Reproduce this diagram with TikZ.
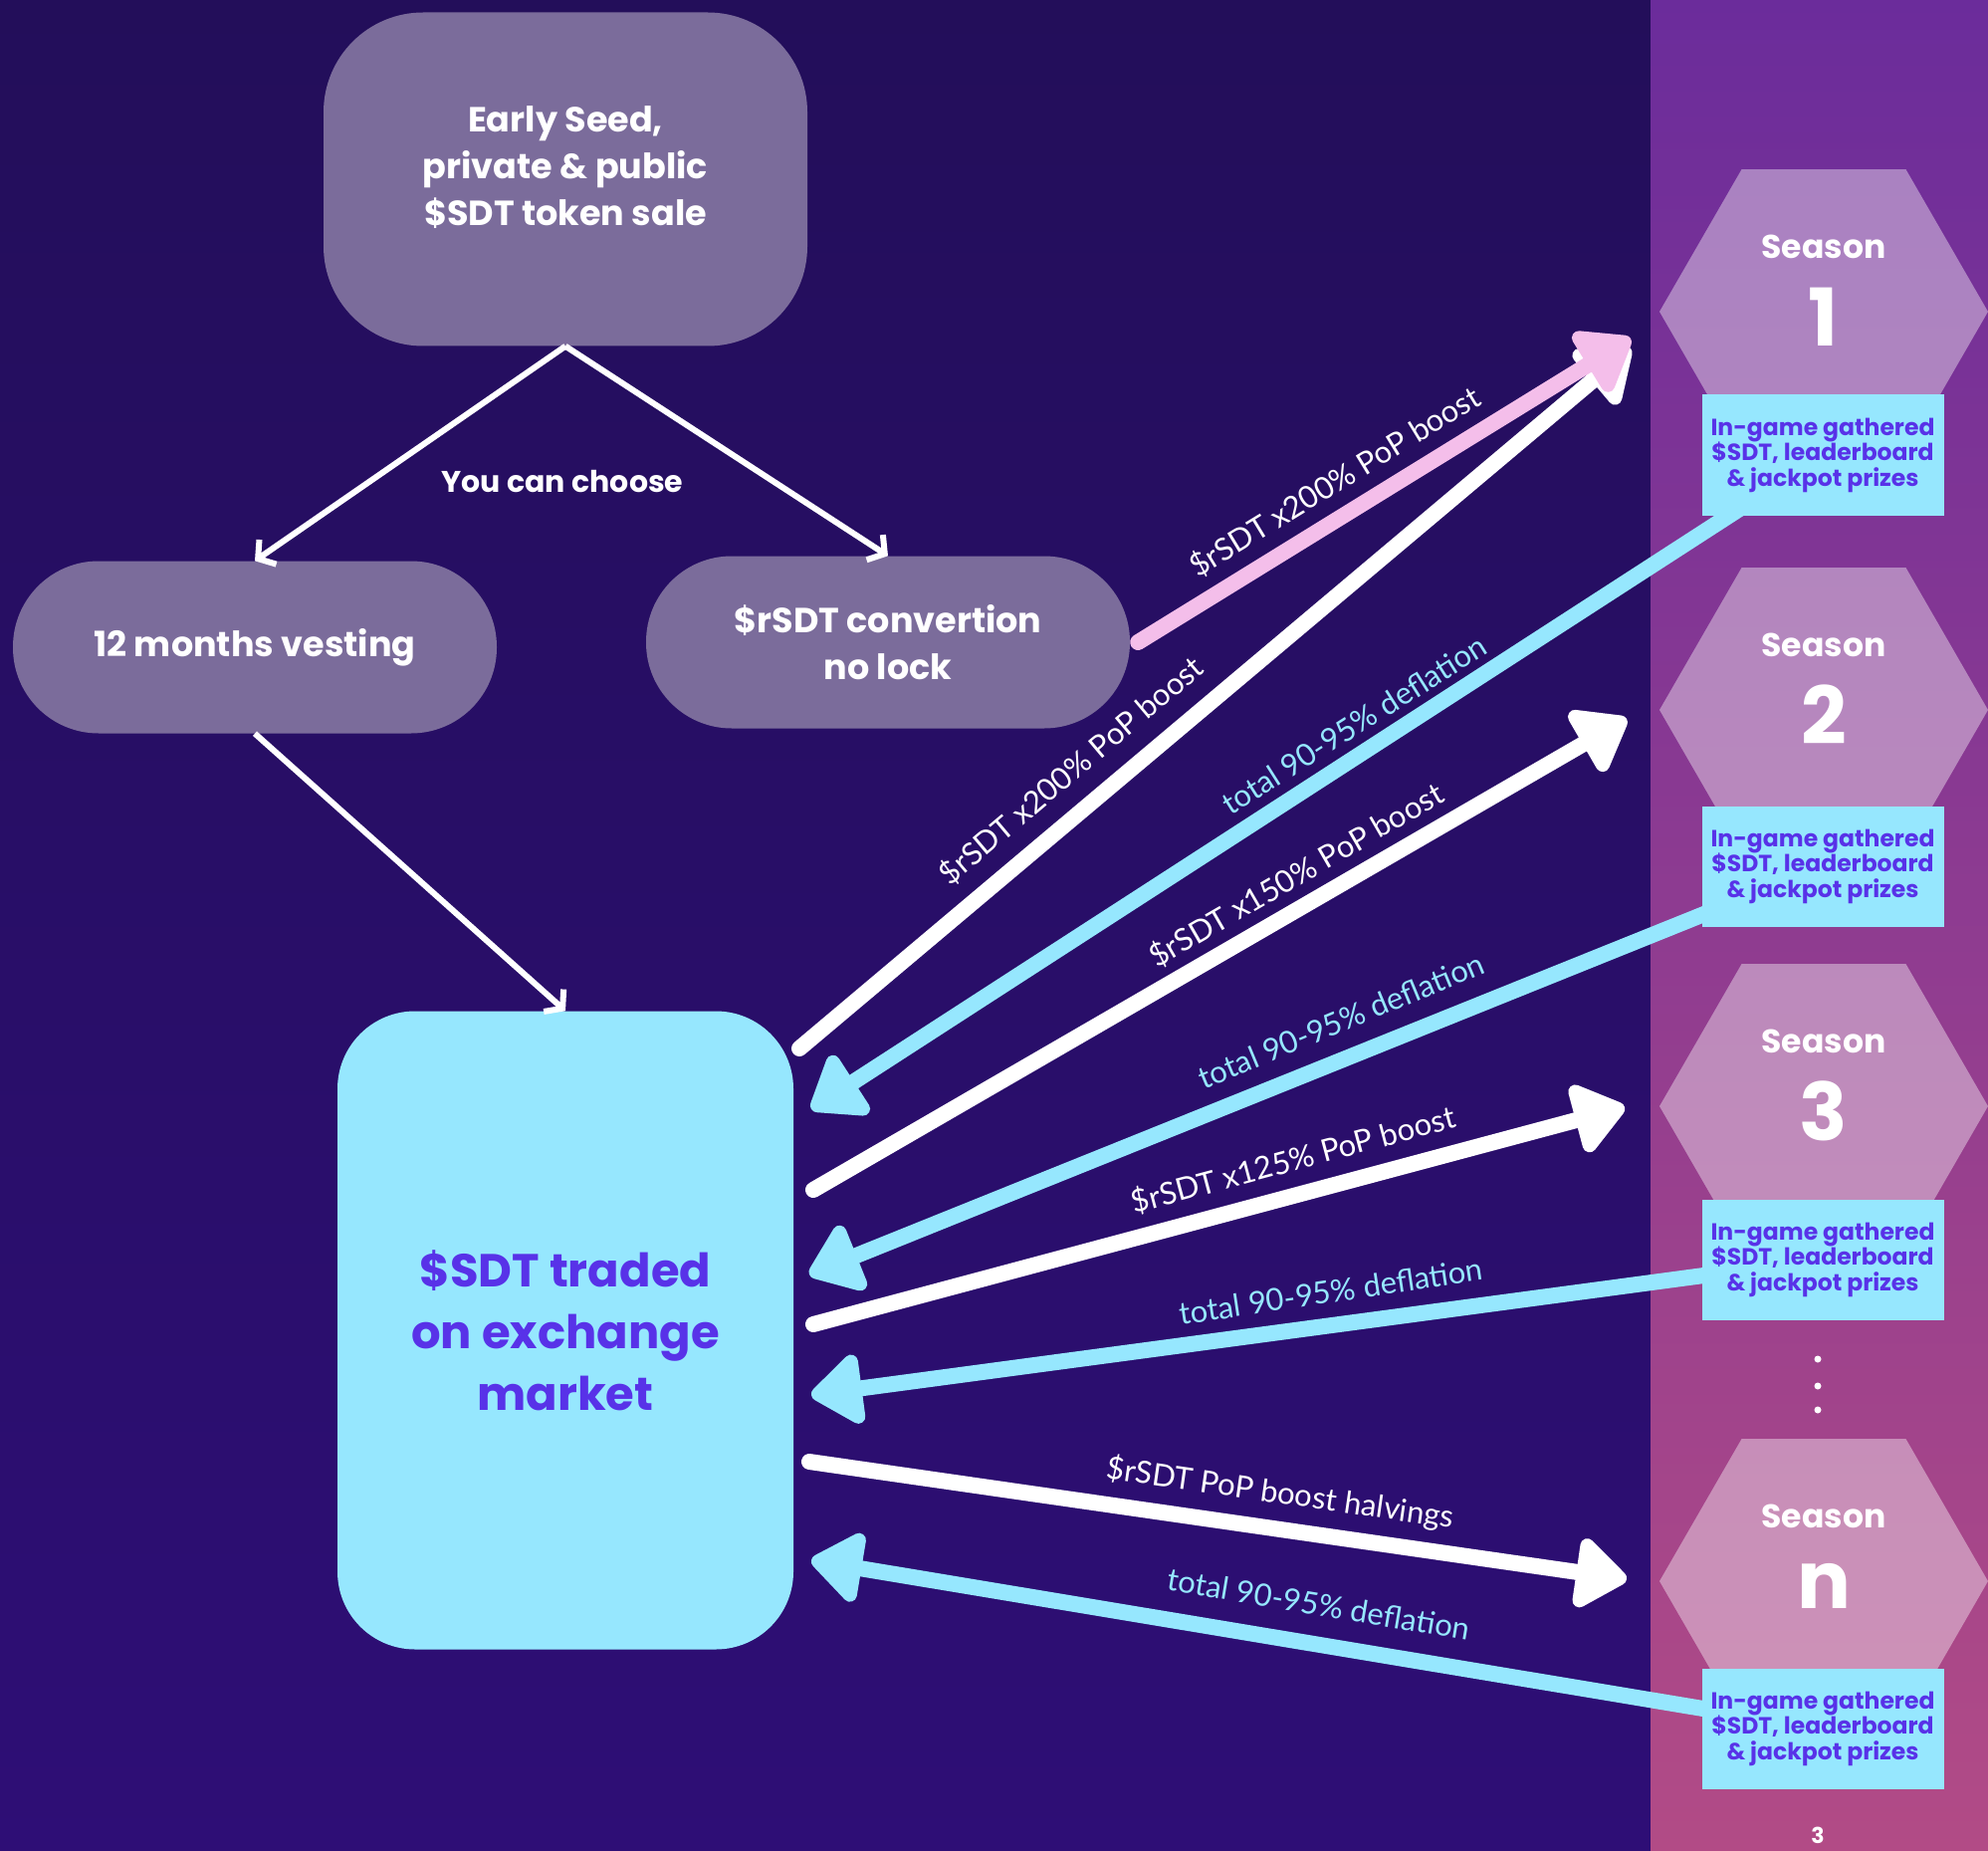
\documentclass[tikz,border=0pt]{standalone}
\usepackage{fontspec}
\setmainfont{Lato}
\newfontfamily\headfont{Poppins}
\usetikzlibrary{arrows.meta, shapes.geometric, positioning, calc}
\definecolor{nightpurple}{RGB}{35,14,90}
\definecolor{deeppurple}{RGB}{46,14,118}
\definecolor{stripviolet}{RGB}{107,44,155}
\definecolor{stripmagenta}{RGB}{178,75,134}
\definecolor{boxmauve}{RGB}{123,108,155}
\definecolor{skycyan}{RGB}{150,231,254}
\definecolor{candypink}{RGB}{244,190,234}
\definecolor{inkviolet}{RGB}{88,50,232}

\pgfdeclarelayer{bg}
\pgfdeclarelayer{flow}
\pgfsetlayers{bg,flow,main}

\tikzset{
  salebox/.style={fill=boxmauve, rounded corners=100pt, minimum width=486pt, minimum height=335pt,
    text=white, align=center, font=\headfont\bfseries\fontsize{35}{47}\selectfont},
  pillbox/.style={fill=boxmauve, rounded corners=86pt, minimum width=486pt, minimum height=173pt,
    text=white, align=center, font=\headfont\bfseries\fontsize{35}{47}\selectfont},
  marketbox/.style={fill=skycyan, rounded corners=78pt, minimum width=458pt, minimum height=641pt,
    text=inkviolet, align=center, font=\headfont\bfseries\fontsize{46.5}{62}\selectfont},
  hexa/.style={regular polygon, regular polygon sides=6, minimum size=330pt, inner sep=0pt,
    fill=white, fill opacity=0.4},
  seasontxt/.style={text=white, inner sep=0pt, font=\headfont\bfseries\fontsize{33}{36}\selectfont},
  seasonnum/.style={text=white, inner sep=0pt, font=\headfont\bfseries\fontsize{80}{80}\selectfont},
  prizebox/.style={fill=skycyan, minimum width=243pt, minimum height=121pt, inner sep=0pt,
    text=inkviolet, align=center, font=\headfont\bfseries\fontsize{23.5}{25.5}\selectfont},
  choice/.style={draw=white, line width=6pt, -{Straight Barb[length=12pt,width=30pt]}},
  bigflow/.style={line width=16pt, line cap=round, -{Triangle[round,length=56pt,width=80pt]}},
  boostarrow/.style={bigflow, draw=white},
  burnarrow/.style={bigflow, draw=skycyan},
  pinkarrow/.style={bigflow, draw=candypink},
  boostlbl/.style={text=white, inner sep=0pt, font=\fontsize{31}{31}\selectfont},
  burnlbl/.style={boostlbl, text=skycyan},
}

\begin{document}
\begin{tikzpicture}[x=1pt, y=-1pt]
  \useasboundingbox (0,0) rectangle (1997,1859);
  \begin{pgfonlayer}{bg}
    \shade[top color=nightpurple, bottom color=deeppurple] (0,0) rectangle (1658,1859);
    \shade[top color=stripviolet, bottom color=stripmagenta] (1658,0) rectangle (1997,1859);
  \end{pgfonlayer}

  % left side: sale and the two choices
  \node[salebox] (sale) at (568,180) {Early Seed,\\private \& public\\\$SDT token sale\\[-21pt]};
  \node[pillbox] (vest) at (256,650) {12 months vesting};
  \node[pillbox] (conv) at (892,645) {\$rSDT convertion\\no lock};
  \node[marketbox] (market) at (568,1336) {\$SDT traded\\on exchange\\market};
  \node[text=white, font=\headfont\bfseries\fontsize{30}{30}\selectfont] (pick) at (565,484) {You can choose};

  \draw[choice] (sale.south) -- (vest.north);
  \draw[choice] (sale.south) -- (conv.north);
  \draw[choice] (vest.south) -- (market.north);

  % seasons
  \foreach \name/\num/\y/\by in {s1/1/313/457, s2/2/713/870, s3/3/1111/1265, sn/n/1588/1736} {
    \node[hexa] (\name) at (1832,\y) {};
    \node[seasontxt] (\name-title) at (1832,\y-65) {Season};
    \node[seasonnum] (\name-num) at (1832,\y+5) {\num};
    \node[prizebox] (\name-prize) at (1831,\by) {In-game gathered\\\$SDT, leaderboard\\\& jackpot prizes};
  }
  \foreach \y in {1365,1392,1416}
    \fill[white] (1826,\y) circle (3.5pt);
  \node[text=white, font=\headfont\bfseries\fontsize{22}{22}\selectfont] (page) at (1826,1843) {3};

  % free ends of the flows
  \coordinate (w1s) at (803,1053);  \coordinate (w1t) at (1638,350);
  \coordinate (w2s) at (817,1195);  \coordinate (w2t) at (1634,722);
  \coordinate (w3s) at (817,1330);  \coordinate (w3t) at (1632,1112);
  \coordinate (w4s) at (813,1468);  \coordinate (w4t) at (1634,1586);
  \coordinate (p1t) at (1638,340);
  \coordinate (c1t) at (815,1114);
  \coordinate (c2t) at (813,1280);
  \coordinate (c3t) at (815,1401);
  \coordinate (c4t) at (815,1567);

  \begin{pgfonlayer}{flow}
    \draw[boostarrow] (w1s) -- (w1t);
    \draw[pinkarrow] ([xshift=8pt]conv.east) -- (p1t);
    \draw[burnarrow] (s1-prize.center) -- (c1t);
    \draw[boostarrow] (w2s) -- (w2t);
    \draw[burnarrow] (s2-prize.center) -- (c2t);
    \draw[boostarrow] (w3s) -- (w3t);
    \draw[burnarrow] (s3-prize.center) -- (c3t);
    \draw[boostarrow] (w4s) -- (w4t);
    \draw[burnarrow] (sn-prize.center) -- (c4t);
  \end{pgfonlayer}

  \node[boostlbl, rotate=31.4] (l0) at (1341,484) {\$rSDT x200\% PoP boost};
  \node[boostlbl, rotate=40.1] (l1) at (1076,774) {\$rSDT x200\% PoP boost};
  \node[burnlbl, rotate=32.4] (l2) at (1360,728) {total 90-95\% deflation};
  \node[boostlbl, rotate=30.1] (l3) at (1302,879) {\$rSDT x150\% PoP boost};
  \node[burnlbl, rotate=22.5] (l4) at (1347,1025) {total 90-95\% deflation};
  \node[boostlbl, rotate=15.0] (l5) at (1299,1165) {\$rSDT x125\% PoP boost};
  \node[burnlbl, rotate=8.5] (l6) at (1337,1297) {total 90-95\% deflation};
  \node[boostlbl, rotate=-8.2] (l7) at (1286,1500) {\$rSDT PoP boost halvings};
  \node[burnlbl, rotate=-9.5] (l8) at (1325,1611) {total 90-95\% deflation};
\end{tikzpicture}
\end{document}
